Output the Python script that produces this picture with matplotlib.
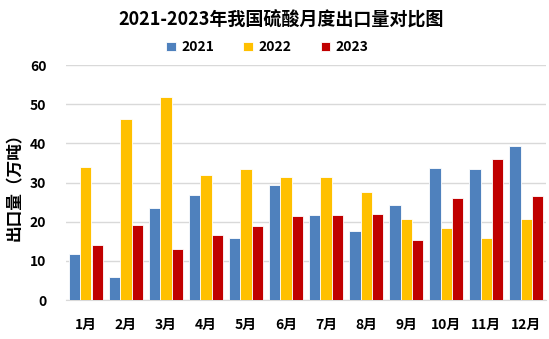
import matplotlib
matplotlib.use('Agg')
import matplotlib.pyplot as plt
import numpy as np

plt.rcParams['font.family'] = ['Noto Sans CJK SC', 'DejaVu Sans']

months = ['1月', '2月', '3月', '4月', '5月', '6月', '7月', '8月', '9月', '10月', '11月', '12月']
v2021 = [11.8, 5.8, 23.6, 26.8, 15.9, 29.5, 21.6, 17.6, 24.3, 33.7, 33.4, 39.4]
v2022 = [34.0, 46.3, 51.9, 31.9, 33.4, 31.5, 31.5, 27.5, 20.8, 18.3, 15.8, 20.8]
v2023 = [14.0, 19.1, 13.0, 16.6, 18.9, 21.4, 21.6, 21.9, 15.3, 26.0, 35.9, 26.5]

series = [('2021', v2021, '#4f81bd'), ('2022', v2022, '#ffc000'), ('2023', v2023, '#c00000')]

fig = plt.figure(figsize=(5.49, 3.39), dpi=100)
ax = fig.add_axes([0.12, 0.115, 0.875, 0.693])

x = np.arange(len(months))
w = 0.28
for i, (name, vals, color) in enumerate(series):
    ax.bar(x + (i - 1) * w, vals, width=w, color=color, edgecolor='white',
           linewidth=0.6, label=name, zorder=3)

ax.set_ylim(0, 60)
ax.set_yticks(range(0, 61, 10))
ax.set_xlim(-0.5, len(months) - 0.5)
ax.set_xticks(x)
ax.set_xticklabels(months)
ax.tick_params(axis='both', length=0, labelsize=10)
ax.tick_params(axis='x', pad=13)
ax.tick_params(axis='y', pad=14)
for lab in ax.get_xticklabels() + ax.get_yticklabels():
    lab.set_fontweight('bold')

ax.grid(axis='y', color='#d9d9d9', linewidth=1, zorder=0)
for s in ['top', 'right', 'left']:
    ax.spines[s].set_visible(False)
ax.spines['bottom'].set_color('#d9d9d9')

ax.set_ylabel('出口量（万吨）', fontsize=12, fontweight='bold', labelpad=4)

fig.text(0.512, 0.94, '2021-2023年我国硫酸月度出口量对比图', ha='center', va='center',
         fontsize=13, fontweight='bold')
fig.legend(loc='center', bbox_to_anchor=(0.487, 0.86), ncol=3, frameon=False,
           prop={'weight': 'bold', 'size': 10}, handlelength=0.7,
           handleheight=0.7, columnspacing=2.1, handletextpad=0.4)

fig.savefig('out.png', dpi=100)
